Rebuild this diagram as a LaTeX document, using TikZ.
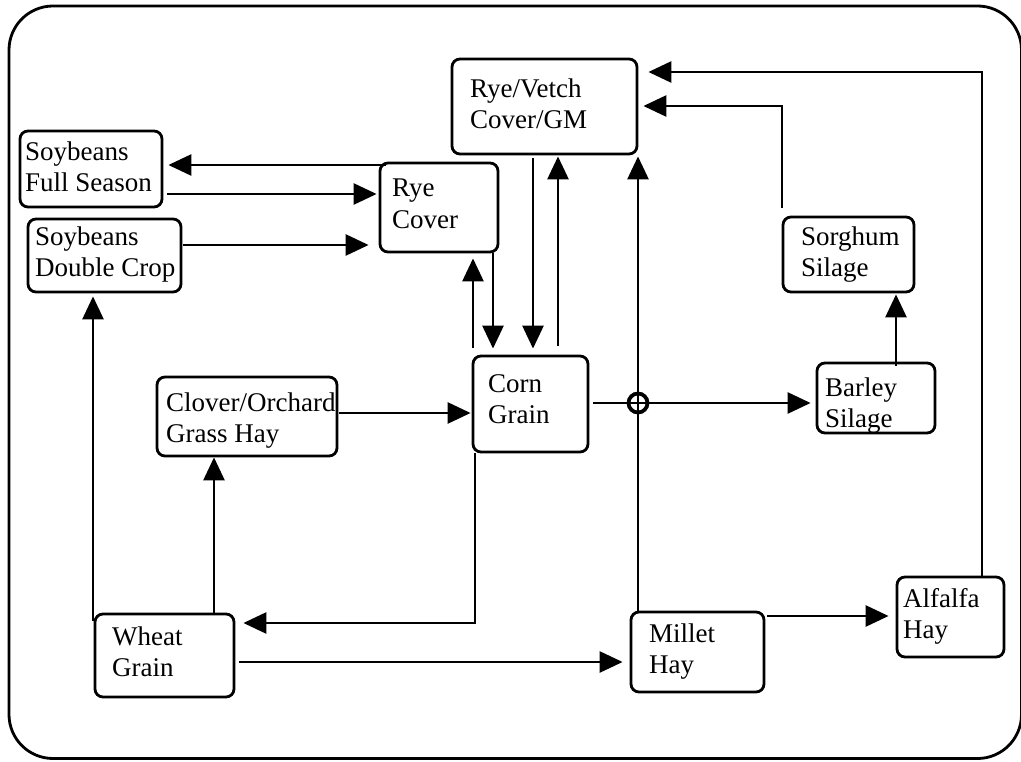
\documentclass[tikz,border=0pt]{standalone}
\usepackage{fontspec}
\setmainfont{Liberation Serif}
\usetikzlibrary{arrows.meta}
\begin{document}
\begin{tikzpicture}[x=1pt,y=-1pt,
  box/.style={draw, line width=2.8pt, rounded corners=8pt, inner sep=0pt},
  lbl/.style={anchor=base west, align=left, inner sep=0pt,
              font=\fontsize{27}{31.5}\selectfont},
  link/.style={line width=2.7pt},
  arr/.style={link, -{Triangle[length=23pt,width=21pt]}},
  hop/.style={draw, circle, line width=3.8pt, minimum size=19pt, inner sep=0pt},
]
\useasboundingbox (0,0) rectangle (1021,762);

% outer frame
\draw[line width=2.8pt, rounded corners=44pt] (9,6) rectangle (1021.5,758.5);

% crop boxes
\node[box, minimum width=185pt, minimum height=95pt] (rv)  at (544.5,106.5) {};
\node[box, minimum width=142pt, minimum height=76pt] (sfs) at (91,169) {};
\node[box, minimum width=153pt, minimum height=73pt] (sdc) at (104.5,255.5) {};
\node[box, minimum width=118pt, minimum height=89pt] (rc)  at (439,207.5) {};
\node[box, minimum width=131pt, minimum height=75pt] (sor) at (848.5,254.5) {};
\node[box, minimum width=118pt, minimum height=70pt] (bar) at (876,398) {};
\node[box, minimum width=115pt, minimum height=96pt] (corn) at (530.5,404) {};
\node[box, minimum width=180pt, minimum height=79pt] (clo) at (247,416.5) {};
\node[box, minimum width=139pt, minimum height=83pt] (wh)  at (164.5,655.5) {};
\node[box, minimum width=133pt, minimum height=80pt] (mil) at (697.5,652) {};
\node[box, minimum width=107pt, minimum height=80pt] (alf) at (950.5,617) {};

% labels (anchored on the baseline of the second line)
\node[lbl] (rv-t)   at (470,129)   {Rye/Vetch\\Cover/GM};
\node[lbl] (sfs-t)  at (25,192)    {Soybeans\\Full Season};
\node[lbl] (sdc-t)  at (35,276.5)  {Soybeans\\Double Crop};
\node[lbl] (rc-t)   at (392,228.5) {Rye\\Cover};
\node[lbl] (sor-t)  at (801,276.5) {Sorghum\\Silage};
\node[lbl] (bar-t)  at (825,427.5) {Barley\\Silage};
\node[lbl] (corn-t) at (488,423.5) {Corn\\Grain};
\node[lbl] (clo-t)  at (166,442.5) {Clover/Orchard\\Grass Hay};
\node[lbl] (wh-t)   at (112,676.5) {Wheat\\Grain};
\node[lbl] (mil-t)  at (649,673.5) {Millet\\Hay};
\node[lbl] (alf-t)  at (903,638.5) {Alfalfa\\Hay};

% rotations
\draw[arr, shorten <=-7pt, shorten >=5pt] (rc.west |- 0,165) -- (sfs.east |- 0,165);
\draw[arr, shorten <=4pt, shorten >=2pt] (sfs.east |- 0,194) -- (rc.west |- 0,194);
\draw[arr, shorten <=1pt, shorten >=10pt] (sdc.east |- 0,245) -- (rc.west |- 0,245);
\draw[arr, shorten <=7pt, shorten >=5pt] (corn.north -| 473,0) -- (rc.south -| 473,0);
\draw[arr, shorten >=6pt] (rc.south -| 493,0) -- (corn.north -| 493,0);
\draw[arr, shorten <=3pt, shorten >=6pt] (rv.south -| 533,0) -- (corn.north -| 533,0);
\draw[arr, shorten <=9pt, shorten >=1pt] (corn.north -| 558,0) -- (rv.south -| 558,0);
\draw[arr, shorten >=1pt] (mil.north -| 638,0) -- (rv.south -| 638,0);
\draw[arr, shorten <=4pt, shorten >=5pt] (corn.east |- 0,403) -- (bar.west |- 0,403);
\draw[arr, shorten <=-4pt, shorten >=1pt] (bar.north -| 896,0) -- (sor.south -| 896,0);
\draw[arr, shorten <=8pt, shorten >=5pt] (sor.north -| 782,0) |- (rv.east |- 0,106);
\draw[arr, shorten >=10pt] (alf.north -| 982,0) |- (rv.east |- 0,72);
\draw[arr, shorten <=1pt, shorten >=1pt] (clo.east |- 0,413) -- (corn.west |- 0,413);
\draw[arr] (wh.north -| 214,0) -- (clo.south -| 214,0);
\draw[arr, shorten <=-8pt, shorten >=3pt] (wh.north -| 93,0) -- (sdc.south -| 93,0);
\draw[arr, shorten >=8pt] (corn.south -| 475,0) |- (wh.east |- 0,623);
\draw[arr, shorten <=4pt, shorten >=7pt] (wh.east |- 0,662) -- (mil.west |- 0,662);
\draw[arr, shorten <=2pt, shorten >=7pt] (mil.east |- 0,616) -- (alf.west |- 0,616);

% line crossing marker
\node[hop] (cross) at (638,403) {};
\end{tikzpicture}
\end{document}
